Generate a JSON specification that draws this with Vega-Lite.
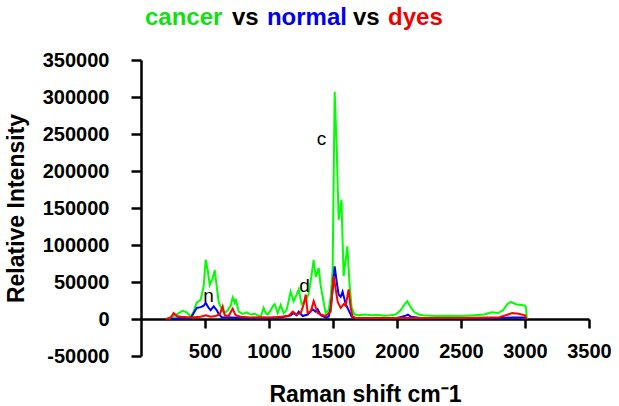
{
  "$schema": "https://vega.github.io/schema/vega-lite/v6.json",
  "width": 448,
  "height": 296,
  "autosize": {"type": "none"},
  "padding": {"left": 141, "top": 60, "right": 30, "bottom": 50},
  "background": "white",
  "view": {"stroke": null},
  "config": {"font": "Liberation Sans", "axis": {"labelOverlap": false, "labelBound": false}},
  "datasets": {
    "spectra": [
      {"shift": 216, "intensity": 0, "sample": "cancer"},
      {"shift": 247, "intensity": 3000, "sample": "cancer"},
      {"shift": 295, "intensity": 8000, "sample": "cancer"},
      {"shift": 326, "intensity": 11000, "sample": "cancer"},
      {"shift": 357, "intensity": 9000, "sample": "cancer"},
      {"shift": 388, "intensity": 3000, "sample": "cancer"},
      {"shift": 412, "intensity": 10000, "sample": "cancer"},
      {"shift": 435, "intensity": 22000, "sample": "cancer"},
      {"shift": 466, "intensity": 26000, "sample": "cancer"},
      {"shift": 490, "intensity": 45000, "sample": "cancer"},
      {"shift": 505, "intensity": 80000, "sample": "cancer"},
      {"shift": 521, "intensity": 66000, "sample": "cancer"},
      {"shift": 537, "intensity": 46000, "sample": "cancer"},
      {"shift": 560, "intensity": 55000, "sample": "cancer"},
      {"shift": 576, "intensity": 66000, "sample": "cancer"},
      {"shift": 591, "intensity": 45000, "sample": "cancer"},
      {"shift": 607, "intensity": 23000, "sample": "cancer"},
      {"shift": 638, "intensity": 10000, "sample": "cancer"},
      {"shift": 661, "intensity": 9000, "sample": "cancer"},
      {"shift": 677, "intensity": 12000, "sample": "cancer"},
      {"shift": 701, "intensity": 18000, "sample": "cancer"},
      {"shift": 716, "intensity": 29000, "sample": "cancer"},
      {"shift": 732, "intensity": 22000, "sample": "cancer"},
      {"shift": 740, "intensity": 27000, "sample": "cancer"},
      {"shift": 763, "intensity": 10000, "sample": "cancer"},
      {"shift": 794, "intensity": 7000, "sample": "cancer"},
      {"shift": 826, "intensity": 9000, "sample": "cancer"},
      {"shift": 857, "intensity": 6000, "sample": "cancer"},
      {"shift": 888, "intensity": 7000, "sample": "cancer"},
      {"shift": 912, "intensity": 5000, "sample": "cancer"},
      {"shift": 935, "intensity": 3000, "sample": "cancer"},
      {"shift": 958, "intensity": 15000, "sample": "cancer"},
      {"shift": 974, "intensity": 8000, "sample": "cancer"},
      {"shift": 990, "intensity": 6000, "sample": "cancer"},
      {"shift": 1013, "intensity": 12000, "sample": "cancer"},
      {"shift": 1029, "intensity": 17000, "sample": "cancer"},
      {"shift": 1044, "intensity": 20000, "sample": "cancer"},
      {"shift": 1068, "intensity": 8000, "sample": "cancer"},
      {"shift": 1091, "intensity": 19000, "sample": "cancer"},
      {"shift": 1115, "intensity": 8000, "sample": "cancer"},
      {"shift": 1138, "intensity": 12000, "sample": "cancer"},
      {"shift": 1169, "intensity": 37000, "sample": "cancer"},
      {"shift": 1193, "intensity": 24000, "sample": "cancer"},
      {"shift": 1216, "intensity": 33000, "sample": "cancer"},
      {"shift": 1232, "intensity": 40000, "sample": "cancer"},
      {"shift": 1255, "intensity": 20000, "sample": "cancer"},
      {"shift": 1287, "intensity": 25000, "sample": "cancer"},
      {"shift": 1310, "intensity": 34000, "sample": "cancer"},
      {"shift": 1333, "intensity": 60000, "sample": "cancer"},
      {"shift": 1349, "intensity": 80000, "sample": "cancer"},
      {"shift": 1365, "intensity": 57000, "sample": "cancer"},
      {"shift": 1388, "intensity": 69000, "sample": "cancer"},
      {"shift": 1404, "intensity": 45000, "sample": "cancer"},
      {"shift": 1419, "intensity": 30000, "sample": "cancer"},
      {"shift": 1443, "intensity": 8000, "sample": "cancer"},
      {"shift": 1466, "intensity": 12000, "sample": "cancer"},
      {"shift": 1482, "intensity": 30000, "sample": "cancer"},
      {"shift": 1497, "intensity": 65000, "sample": "cancer"},
      {"shift": 1513, "intensity": 307000, "sample": "cancer"},
      {"shift": 1529, "intensity": 230000, "sample": "cancer"},
      {"shift": 1544, "intensity": 134000, "sample": "cancer"},
      {"shift": 1566, "intensity": 161000, "sample": "cancer"},
      {"shift": 1583, "intensity": 58000, "sample": "cancer"},
      {"shift": 1612, "intensity": 98000, "sample": "cancer"},
      {"shift": 1630, "intensity": 45000, "sample": "cancer"},
      {"shift": 1646, "intensity": 15000, "sample": "cancer"},
      {"shift": 1669, "intensity": 6000, "sample": "cancer"},
      {"shift": 1700, "intensity": 5000, "sample": "cancer"},
      {"shift": 1750, "intensity": 6000, "sample": "cancer"},
      {"shift": 1800, "intensity": 5000, "sample": "cancer"},
      {"shift": 1850, "intensity": 5500, "sample": "cancer"},
      {"shift": 1900, "intensity": 4500, "sample": "cancer"},
      {"shift": 1950, "intensity": 5000, "sample": "cancer"},
      {"shift": 1990, "intensity": 6000, "sample": "cancer"},
      {"shift": 2030, "intensity": 12000, "sample": "cancer"},
      {"shift": 2060, "intensity": 20000, "sample": "cancer"},
      {"shift": 2081, "intensity": 24000, "sample": "cancer"},
      {"shift": 2100, "intensity": 18000, "sample": "cancer"},
      {"shift": 2130, "intensity": 10000, "sample": "cancer"},
      {"shift": 2170, "intensity": 6000, "sample": "cancer"},
      {"shift": 2200, "intensity": 5000, "sample": "cancer"},
      {"shift": 2300, "intensity": 4000, "sample": "cancer"},
      {"shift": 2400, "intensity": 4500, "sample": "cancer"},
      {"shift": 2500, "intensity": 4000, "sample": "cancer"},
      {"shift": 2600, "intensity": 5000, "sample": "cancer"},
      {"shift": 2680, "intensity": 6000, "sample": "cancer"},
      {"shift": 2740, "intensity": 9000, "sample": "cancer"},
      {"shift": 2790, "intensity": 8000, "sample": "cancer"},
      {"shift": 2830, "intensity": 12000, "sample": "cancer"},
      {"shift": 2860, "intensity": 20000, "sample": "cancer"},
      {"shift": 2890, "intensity": 23000, "sample": "cancer"},
      {"shift": 2930, "intensity": 20000, "sample": "cancer"},
      {"shift": 2970, "intensity": 19000, "sample": "cancer"},
      {"shift": 3000, "intensity": 18000, "sample": "cancer"},
      {"shift": 3008, "intensity": 15000, "sample": "cancer"},
      {"shift": 3014, "intensity": 0, "sample": "cancer"},

      {"shift": 232, "intensity": 0, "sample": "normal"},
      {"shift": 310, "intensity": 1500, "sample": "normal"},
      {"shift": 388, "intensity": 1000, "sample": "normal"},
      {"shift": 412, "intensity": 8000, "sample": "normal"},
      {"shift": 435, "intensity": 15000, "sample": "normal"},
      {"shift": 466, "intensity": 16000, "sample": "normal"},
      {"shift": 490, "intensity": 18000, "sample": "normal"},
      {"shift": 505, "intensity": 22000, "sample": "normal"},
      {"shift": 529, "intensity": 15000, "sample": "normal"},
      {"shift": 544, "intensity": 12000, "sample": "normal"},
      {"shift": 568, "intensity": 17000, "sample": "normal"},
      {"shift": 591, "intensity": 12000, "sample": "normal"},
      {"shift": 607, "intensity": 7000, "sample": "normal"},
      {"shift": 630, "intensity": 2500, "sample": "normal"},
      {"shift": 701, "intensity": 2000, "sample": "normal"},
      {"shift": 779, "intensity": 1500, "sample": "normal"},
      {"shift": 935, "intensity": 1000, "sample": "normal"},
      {"shift": 1091, "intensity": 2000, "sample": "normal"},
      {"shift": 1169, "intensity": 5000, "sample": "normal"},
      {"shift": 1193, "intensity": 8000, "sample": "normal"},
      {"shift": 1216, "intensity": 5000, "sample": "normal"},
      {"shift": 1232, "intensity": 10000, "sample": "normal"},
      {"shift": 1263, "intensity": 4000, "sample": "normal"},
      {"shift": 1302, "intensity": 6000, "sample": "normal"},
      {"shift": 1341, "intensity": 13000, "sample": "normal"},
      {"shift": 1365, "intensity": 10000, "sample": "normal"},
      {"shift": 1380, "intensity": 13000, "sample": "normal"},
      {"shift": 1404, "intensity": 5000, "sample": "normal"},
      {"shift": 1443, "intensity": 2000, "sample": "normal"},
      {"shift": 1466, "intensity": 3000, "sample": "normal"},
      {"shift": 1482, "intensity": 15000, "sample": "normal"},
      {"shift": 1497, "intensity": 40000, "sample": "normal"},
      {"shift": 1513, "intensity": 71000, "sample": "normal"},
      {"shift": 1529, "intensity": 50000, "sample": "normal"},
      {"shift": 1544, "intensity": 33000, "sample": "normal"},
      {"shift": 1560, "intensity": 30000, "sample": "normal"},
      {"shift": 1575, "intensity": 37000, "sample": "normal"},
      {"shift": 1599, "intensity": 20000, "sample": "normal"},
      {"shift": 1622, "intensity": 12000, "sample": "normal"},
      {"shift": 1646, "intensity": 3000, "sample": "normal"},
      {"shift": 1677, "intensity": 1000, "sample": "normal"},
      {"shift": 1800, "intensity": 1000, "sample": "normal"},
      {"shift": 2000, "intensity": 1500, "sample": "normal"},
      {"shift": 2060, "intensity": 4000, "sample": "normal"},
      {"shift": 2085, "intensity": 6000, "sample": "normal"},
      {"shift": 2110, "intensity": 3000, "sample": "normal"},
      {"shift": 2200, "intensity": 1000, "sample": "normal"},
      {"shift": 2500, "intensity": 1000, "sample": "normal"},
      {"shift": 2800, "intensity": 1500, "sample": "normal"},
      {"shift": 2900, "intensity": 2000, "sample": "normal"},
      {"shift": 3000, "intensity": 2000, "sample": "normal"},
      {"shift": 3012, "intensity": 0, "sample": "normal"},

      {"shift": 193, "intensity": 0, "sample": "dyes"},
      {"shift": 232, "intensity": 2000, "sample": "dyes"},
      {"shift": 255, "intensity": 8000, "sample": "dyes"},
      {"shift": 279, "intensity": 4000, "sample": "dyes"},
      {"shift": 310, "intensity": 3000, "sample": "dyes"},
      {"shift": 388, "intensity": 2000, "sample": "dyes"},
      {"shift": 466, "intensity": 3000, "sample": "dyes"},
      {"shift": 505, "intensity": 5000, "sample": "dyes"},
      {"shift": 544, "intensity": 3000, "sample": "dyes"},
      {"shift": 583, "intensity": 4000, "sample": "dyes"},
      {"shift": 615, "intensity": 6000, "sample": "dyes"},
      {"shift": 638, "intensity": 17000, "sample": "dyes"},
      {"shift": 654, "intensity": 5000, "sample": "dyes"},
      {"shift": 685, "intensity": 4000, "sample": "dyes"},
      {"shift": 716, "intensity": 14000, "sample": "dyes"},
      {"shift": 740, "intensity": 5000, "sample": "dyes"},
      {"shift": 779, "intensity": 3000, "sample": "dyes"},
      {"shift": 857, "intensity": 2000, "sample": "dyes"},
      {"shift": 935, "intensity": 2500, "sample": "dyes"},
      {"shift": 1013, "intensity": 2000, "sample": "dyes"},
      {"shift": 1091, "intensity": 3000, "sample": "dyes"},
      {"shift": 1154, "intensity": 4000, "sample": "dyes"},
      {"shift": 1185, "intensity": 10000, "sample": "dyes"},
      {"shift": 1216, "intensity": 6000, "sample": "dyes"},
      {"shift": 1248, "intensity": 8000, "sample": "dyes"},
      {"shift": 1271, "intensity": 20000, "sample": "dyes"},
      {"shift": 1287, "intensity": 33000, "sample": "dyes"},
      {"shift": 1302, "intensity": 8000, "sample": "dyes"},
      {"shift": 1326, "intensity": 10000, "sample": "dyes"},
      {"shift": 1349, "intensity": 24000, "sample": "dyes"},
      {"shift": 1380, "intensity": 8000, "sample": "dyes"},
      {"shift": 1404, "intensity": 6000, "sample": "dyes"},
      {"shift": 1443, "intensity": 4000, "sample": "dyes"},
      {"shift": 1482, "intensity": 10000, "sample": "dyes"},
      {"shift": 1505, "intensity": 58000, "sample": "dyes"},
      {"shift": 1521, "intensity": 40000, "sample": "dyes"},
      {"shift": 1537, "intensity": 23000, "sample": "dyes"},
      {"shift": 1560, "intensity": 15000, "sample": "dyes"},
      {"shift": 1583, "intensity": 20000, "sample": "dyes"},
      {"shift": 1599, "intensity": 18000, "sample": "dyes"},
      {"shift": 1622, "intensity": 40000, "sample": "dyes"},
      {"shift": 1638, "intensity": 15000, "sample": "dyes"},
      {"shift": 1654, "intensity": 3000, "sample": "dyes"},
      {"shift": 1677, "intensity": 1500, "sample": "dyes"},
      {"shift": 2000, "intensity": 1500, "sample": "dyes"},
      {"shift": 2500, "intensity": 1500, "sample": "dyes"},
      {"shift": 2800, "intensity": 2500, "sample": "dyes"},
      {"shift": 2850, "intensity": 5000, "sample": "dyes"},
      {"shift": 2900, "intensity": 8000, "sample": "dyes"},
      {"shift": 2950, "intensity": 7000, "sample": "dyes"},
      {"shift": 3000, "intensity": 5000, "sample": "dyes"},
      {"shift": 3012, "intensity": 0, "sample": "dyes"}
    ],
    "labels": [
      {"shift": 527, "intensity": 23000, "label": "n"},
      {"shift": 1277, "intensity": 36500, "label": "d"},
      {"shift": 1410, "intensity": 235000, "label": "c"}
    ]
  },
  "layer": [
    {
      "data": {"name": "spectra"},
      "mark": {"type": "line", "strokeWidth": 2, "clip": true},
      "encoding": {
        "x": {
          "field": "shift", "type": "quantitative",
          "scale": {"domain": [0, 3500], "nice": false, "zero": false},
          "axis": {
            "title": "Raman shift cm\u207b1",
            "values": [500, 1000, 1500, 2000, 2500, 3000, 3500],
            "tickCount": 20,
            "offset": -37,
            "grid": false,
            "domainColor": "black", "domainWidth": 2.5,
            "tickColor": "black", "tickWidth": 2.5, "tickSize": 9,
            "labelFont": "Liberation Sans", "labelFontWeight": "bold", "labelFontSize": 20, "labelColor": "black",
            "labelPadding": 13, "labelFlush": false, "labelOverlap": false,
            "labelExpr": "datum.value + ''",
            "titleFont": "Liberation Sans", "titleFontWeight": "bold", "titleFontSize": 23, "titleColor": "black",
            "titlePadding": 22
          }
        },
        "y": {
          "field": "intensity", "type": "quantitative",
          "scale": {"domain": [-50000, 350000], "nice": false, "zero": false},
          "axis": {
            "title": "Relative Intensity",
            "values": [-50000, 0, 50000, 100000, 150000, 200000, 250000, 300000, 350000],
            "tickCount": 20,
            "grid": false,
            "domainColor": "black", "domainWidth": 2.5,
            "tickColor": "black", "tickWidth": 2.5, "tickSize": 10,
            "labelFont": "Liberation Sans", "labelFontWeight": "bold", "labelFontSize": 20, "labelColor": "black",
            "labelPadding": 22, "labelOverlap": false, "labelBound": false,
            "labelExpr": "datum.value + ''",
            "titleFont": "Liberation Sans", "titleFontWeight": "bold", "titleFontSize": 23, "titleColor": "black",
            "titlePadding": 14
          }
        },
        "color": {
          "field": "sample", "type": "nominal",
          "scale": {"domain": ["cancer", "normal", "dyes"], "range": ["#00ff00", "#0000ff", "#ff0000"]},
          "legend": null
        }
      }
    },
    {
      "data": {"name": "labels"},
      "mark": {"type": "text", "font": "Liberation Sans", "fontSize": 19, "align": "center", "baseline": "alphabetic", "color": "black"},
      "encoding": {
        "x": {"field": "shift", "type": "quantitative"},
        "y": {"field": "intensity", "type": "quantitative"},
        "text": {"field": "label"}
      }
    },
    {
      "data": {"values": [{}]},
      "mark": {"type": "text", "font": "Liberation Sans", "fontSize": 24, "fontWeight": "bold", "align": "left", "baseline": "alphabetic", "color": "#11e011"},
      "encoding": {"x": {"datum": 31}, "y": {"datum": 397000}, "text": {"value": "cancer"}}
    },
    {
      "data": {"values": [{}]},
      "mark": {"type": "text", "font": "Liberation Sans", "fontSize": 24, "fontWeight": "bold", "align": "left", "baseline": "alphabetic", "color": "black"},
      "encoding": {"x": {"datum": 711}, "y": {"datum": 397000}, "text": {"value": "vs"}}
    },
    {
      "data": {"values": [{}]},
      "mark": {"type": "text", "font": "Liberation Sans", "fontSize": 24, "fontWeight": "bold", "align": "left", "baseline": "alphabetic", "color": "#0000ee"},
      "encoding": {"x": {"datum": 984}, "y": {"datum": 397000}, "text": {"value": "normal"}}
    },
    {
      "data": {"values": [{}]},
      "mark": {"type": "text", "font": "Liberation Sans", "fontSize": 24, "fontWeight": "bold", "align": "left", "baseline": "alphabetic", "color": "black"},
      "encoding": {"x": {"datum": 1656}, "y": {"datum": 397000}, "text": {"value": "vs"}}
    },
    {
      "data": {"values": [{}]},
      "mark": {"type": "text", "font": "Liberation Sans", "fontSize": 24, "fontWeight": "bold", "align": "left", "baseline": "alphabetic", "color": "#ee0000"},
      "encoding": {"x": {"datum": 1930}, "y": {"datum": 397000}, "text": {"value": "dyes"}}
    }
  ]
}
